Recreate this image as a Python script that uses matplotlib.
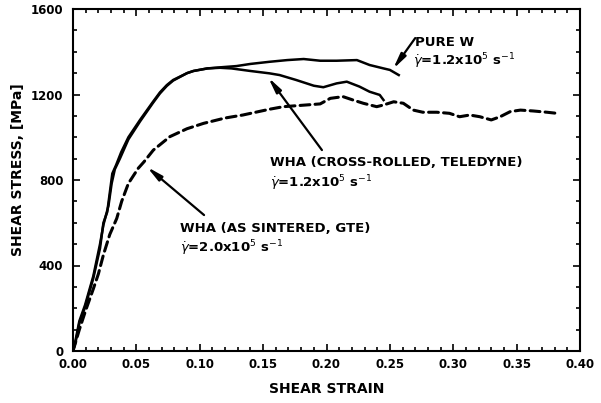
import matplotlib
matplotlib.use("Agg")
import matplotlib.pyplot as plt
from matplotlib.ticker import MultipleLocator

# ---- data ----
purew_strain = [0, 0.002, 0.005, 0.0095, 0.016, 0.0213, 0.024, 0.028, 0.0305, 0.033, 0.037,
                0.0437, 0.053, 0.063, 0.0686, 0.074, 0.079, 0.09, 0.095, 0.106, 0.118, 0.129,
                0.14, 0.155, 0.169, 0.182, 0.195, 0.208, 0.224, 0.234, 0.245, 0.25, 0.257]
purew_stress = [0, 50, 140, 215, 350, 500, 590, 680, 784, 850, 900,
                990, 1075, 1160, 1205, 1240, 1265, 1300, 1310, 1322, 1328, 1333,
                1343, 1353, 1361, 1366, 1358, 1358, 1361, 1338, 1322, 1315, 1291]

cross_strain = [0, 0.002, 0.005, 0.0095, 0.016, 0.0213, 0.024, 0.027, 0.029, 0.031, 0.034,
                0.038, 0.0437, 0.053, 0.063, 0.0686, 0.074, 0.079, 0.09, 0.095, 0.106, 0.116,
                0.125, 0.14, 0.155, 0.163, 0.176, 0.19, 0.1975, 0.208, 0.216, 0.226, 0.234,
                0.242, 0.245]
cross_stress = [0, 40, 130, 205, 340, 480, 600, 650, 740, 830, 870,
                930, 1000, 1082, 1165, 1210, 1244, 1268, 1300, 1310, 1322, 1325,
                1322, 1310, 1299, 1291, 1268, 1241, 1234, 1252, 1260, 1237, 1213,
                1198, 1174]

sint_strain = [0, 0.005, 0.01, 0.016, 0.02, 0.024, 0.029, 0.0345, 0.0384, 0.0437, 0.0515,
               0.056, 0.0634, 0.0765, 0.09, 0.103, 0.12, 0.134, 0.155, 0.166, 0.184, 0.195,
               0.203, 0.213, 0.221, 0.229, 0.2396, 0.245, 0.253, 0.2606, 0.2685, 0.276, 0.287,
               0.297, 0.305, 0.313, 0.321, 0.330, 0.337, 0.345, 0.353, 0.363, 0.374, 0.3816]
sint_stress = [0, 100, 190, 290, 360, 450, 545, 620, 700, 784, 855,
               885, 940, 1003, 1040, 1065, 1090, 1104, 1131, 1143, 1151, 1156,
               1182, 1190, 1174, 1159, 1143, 1151, 1166, 1159, 1127, 1117, 1117,
               1112, 1096, 1104, 1096, 1081, 1096, 1120, 1127, 1123, 1117, 1112]

x_ticks = [0.00, 0.05, 0.10, 0.15, 0.20, 0.25, 0.30, 0.35, 0.40]
x_tick_labels = ["0.00", "0.05", "0.10", "0.15", "0.20", "0.25", "0.30", "0.35", "0.40"]
y_ticks = [0, 400, 800, 1200, 1600]
y_tick_labels = ["0", "400", "800", "1200", "1600"]

FS = 8.5
TFS = 9.5
fig = plt.figure(figsize=(6.01, 4.03), dpi=100)
ax = fig.add_axes([73/601, 1 - 351/403, (580-73)/601, (351-9)/403])

ax.plot(purew_strain, purew_stress, color="black", lw=1.8, solid_joinstyle="round")
ax.plot(cross_strain, cross_stress, color="black", lw=1.8, solid_joinstyle="round")
ax.plot(sint_strain, sint_stress, color="black", lw=2.2, linestyle=(0, (3.2, 1.7)),
        dash_capstyle="round")

ax.set_xlim(0, 0.40)
ax.set_ylim(0, 1600)
ax.set_xticks(x_ticks)
ax.set_xticklabels(x_tick_labels)
ax.set_yticks(y_ticks)
ax.set_yticklabels(y_tick_labels)
ax.xaxis.set_minor_locator(MultipleLocator(0.01))
ax.yaxis.set_minor_locator(MultipleLocator(100))
ax.tick_params(which="both", direction="in", top=True, right=True, width=1.2)
ax.tick_params(which="major", length=5, labelsize=FS, pad=5)
ax.tick_params(which="minor", length=3)
ax.tick_params(axis="y", which="major", pad=7)
for lab in ax.get_xticklabels() + ax.get_yticklabels():
    lab.set_fontweight("bold")
for sp in ax.spines.values():
    sp.set_linewidth(1.5)

ax.set_xlabel("SHEAR STRAIN", fontsize=10, fontweight="bold", labelpad=8)
ax.set_ylabel("SHEAR STRESS, [MPa]", fontsize=10, fontweight="bold", labelpad=6)
ax.yaxis.set_label_coords(-0.094, 0.53)

tk = dict(fontsize=TFS, fontweight="bold", va="center", ha="left")
ax.text(0.270, 1445, "PURE W", **tk)
ax.text(0.268, 1357, r"$\dot{\gamma}$=1.2x10$^{5}$ s$^{-1}$", **tk)
ax.text(0.1554, 880, "WHA (CROSS-ROLLED, TELEDYNE)", **tk)
ax.text(0.1554, 786, r"$\dot{\gamma}$=1.2x10$^{5}$ s$^{-1}$", **tk)
ax.text(0.0844, 575, "WHA (AS SINTERED, GTE)", **tk)
ax.text(0.0844, 482, r"$\dot{\gamma}$=2.0x10$^{5}$ s$^{-1}$", **tk)

ap = dict(arrowstyle="-|>,head_length=0.9,head_width=0.18", lw=1.6, color="black",
          shrinkA=0, shrinkB=0)
ax.annotate("", xy=(0.2525, 1319), xytext=(0.270, 1464), arrowprops=ap)
ax.annotate("", xy=(0.154, 1280), xytext=(0.1964, 940), arrowprops=ap)
ax.annotate("", xy=(0.0584, 861), xytext=(0.1034, 636), arrowprops=ap)

fig.savefig("out.png", dpi=100)
